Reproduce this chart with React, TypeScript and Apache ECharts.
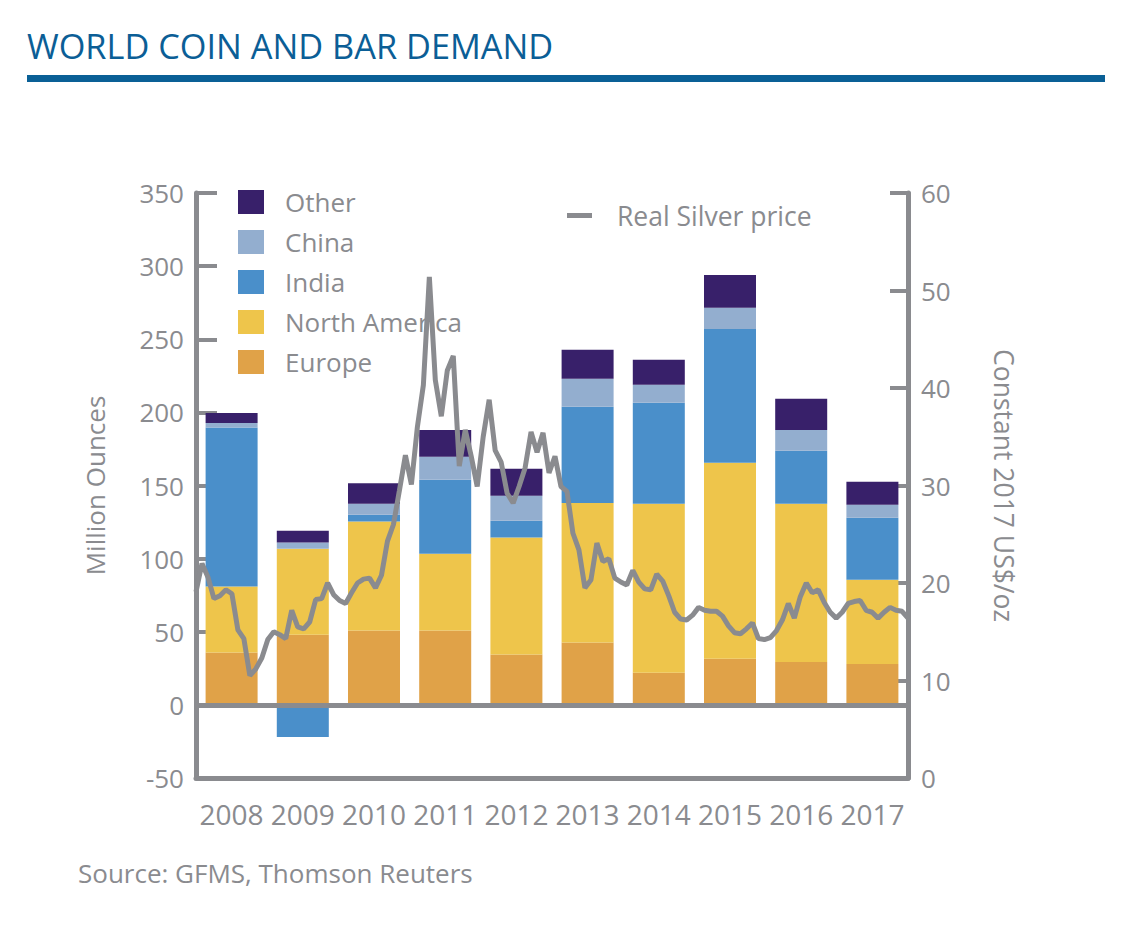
import React, { useEffect, useRef } from "react";
import * as echarts from "echarts";

const years = ["2008", "2009", "2010", "2011", "2012", "2013", "2014", "2015", "2016", "2017"];
const europe = [35.8, 47.9, 50.8, 50.8, 34.4, 42.6, 21.9, 31.5, 29.4, 28];
const northAmerica = [45.1, 58.8, 74.6, 52.5, 80.1, 95.4, 115.6, 134, 108.1, 57.5];
const india = [108.8, -22, 4.6, 50.6, 11.4, 65.8, 69.1, 91.5, 36.2, 42.4];
const china = [3, 4.3, 7.5, 15.7, 17.1, 19.2, 12.3, 14.5, 14.3, 8.9];
const other = [6.8, 8, 14.1, 18.4, 18.4, 19.8, 17.1, 22.5, 21.3, 15.7];

// Real silver price, constant 2017 US$/oz, monthly Jan 2008 - Dec 2017
const silverPrice = [
  19.1, 22.0, 20.6, 18.4, 18.7, 19.3, 18.9, 15.2, 14.3, 10.5, 11.2, 12.3,
  14.2, 15.0, 14.7, 14.3, 17.2, 15.5, 15.3, 16.0, 18.3, 18.4, 20.0, 18.8,
  18.2, 17.9, 19.0, 20.0, 20.4, 20.5, 19.5, 20.8, 24.3, 26.0, 29.5, 33.1,
  30.1, 36.0, 40.3, 51.4, 40.8, 37.1, 41.8, 43.3, 32.0, 35.7, 33.0, 29.9,
  35.0, 38.8, 33.6, 32.4, 29.2, 28.2, 29.9, 31.8, 35.5, 33.4, 35.4, 31.3,
  33.0, 29.9, 29.4, 25.1, 23.4, 19.5, 20.3, 24.1, 22.2, 22.5, 20.5, 20.1,
  19.8, 21.3, 20.1, 19.4, 19.3, 20.9, 20.2, 18.7, 17.0, 16.3, 16.2, 16.7,
  17.5, 17.2, 17.1, 17.1, 16.6, 15.6, 14.9, 14.8, 15.3, 15.9, 14.3, 14.2,
  14.4, 15.1, 16.2, 17.9, 16.4, 18.6, 20.0, 19.0, 19.3, 18.0, 17.0, 16.4,
  17.0, 17.9, 18.1, 18.2, 17.2, 17.0, 16.4, 17.0, 17.5, 17.2, 17.1, 16.4,
];

const monthNames = ["01", "02", "03", "04", "05", "06", "07", "08", "09", "10", "11", "12"];
const months: string[] = [];
years.forEach((y) => monthNames.forEach((m) => months.push(y + "-" + m)));

const leftTicks = { min: -50, max: 350, interval: 50 };
const rightTicks = { min: 0, max: 60, interval: 10 };

const GRAY = "#8a8b8f";
const FONT = "Open Sans";

const colors = {
  other: "#38206a",
  china: "#93aecf",
  india: "#4a8fca",
  northAmerica: "#eec54b",
  europe: "#e0a248",
};

export default function App() {
  const ref = useRef<HTMLDivElement>(null);

  useEffect(() => {
    if (!ref.current) return;
    const chart = echarts.init(ref.current, null, { renderer: "svg" });

    const barBase = {
      type: "bar",
      stack: "total",
      barWidth: 52,
      xAxisIndex: 0,
      yAxisIndex: 0,
    };

    chart.setOption({
      animation: false,
      textStyle: { fontFamily: FONT },
      graphic: [
        {
          type: "text",
          left: 27,
          top: 28,
          style: {
            text: "WORLD COIN AND BAR DEMAND",
            fontSize: 34.3,
            fontFamily: FONT,
            fill: "#0b5e96",
          },
        },
        {
          type: "rect",
          shape: { x: 27, y: 75, width: 1078, height: 7 },
          style: { fill: "#0a6096" },
        },
        {
          type: "text",
          left: 78,
          top: 860,
          style: {
            text: "Source: GFMS, Thomson Reuters",
            fontSize: 26,
            fontFamily: FONT,
            fill: GRAY,
          },
        },
      ],
      grid: { left: 196, right: 226, top: 193, bottom: 152, containLabel: false },
      legend: [
        {
          data: ["Other", "China", "India", "North America", "Europe"],
          orient: "vertical",
          left: 238,
          top: 189,
          padding: 0,
          itemWidth: 26,
          itemHeight: 24,
          itemGap: 14,
          icon: "rect",
          selectedMode: false,
          textStyle: {
            fontSize: 26,
            color: GRAY,
            fontFamily: FONT,
            lineHeight: 24,
            padding: [0, 0, 0, 16],
          },
        },
        {
          data: ["Real Silver price"],
          left: 567,
          top: 202,
          padding: 0,
          itemWidth: 25,
          itemHeight: 5,
          icon: "rect",
          selectedMode: false,
          textStyle: {
            fontSize: 26.5,
            color: GRAY,
            fontFamily: FONT,
            lineHeight: 24,
            padding: [0, 0, 0, 20],
          },
        },
      ],
      xAxis: [
        {
          type: "category",
          data: years,
          position: "bottom",
          axisLine: { onZero: false, lineStyle: { color: GRAY, width: 5 } },
          axisTick: { alignWithLabel: true, interval: 0, length: 15, lineStyle: { color: GRAY, width: 4 } },
          axisLabel: { interval: 0, fontSize: 28, color: GRAY, margin: 22, fontFamily: FONT },
          splitLine: { show: false },
        },
        {
          type: "category",
          data: months,
          boundaryGap: false,
          show: false,
        },
      ],
      yAxis: [
        {
          type: "value",
          position: "left",
          min: leftTicks.min,
          max: leftTicks.max,
          interval: leftTicks.interval,
          name: "Million Ounces",
          nameLocation: "middle",
          nameGap: 88,
          nameTextStyle: { fontSize: 26, color: GRAY, fontFamily: FONT },
          axisLine: { show: true, lineStyle: { color: GRAY, width: 5 } },
          axisTick: { show: true, inside: true, length: 21, lineStyle: { color: GRAY, width: 4 } },
          axisLabel: { fontSize: 26, color: GRAY, margin: 12, fontFamily: FONT },
          splitLine: { show: false },
        },
        {
          type: "value",
          position: "right",
          min: rightTicks.min,
          max: rightTicks.max,
          interval: rightTicks.interval,
          name: "Constant 2017 US$/oz",
          nameLocation: "middle",
          nameRotate: -90,
          nameGap: 82,
          nameTextStyle: { fontSize: 26.5, color: GRAY, fontFamily: FONT },
          axisLine: { show: true, lineStyle: { color: GRAY, width: 5 } },
          axisTick: { show: true, inside: true, length: 18, lineStyle: { color: GRAY, width: 4 } },
          axisLabel: { fontSize: 26, color: GRAY, margin: 13, fontFamily: FONT },
          splitLine: { show: false },
        },
      ],
      series: [
        {
          ...barBase,
          name: "Europe",
          data: europe,
          itemStyle: { color: colors.europe },
          markLine: {
            silent: true,
            symbol: ["none", "none"],
            label: { show: false },
            lineStyle: { color: GRAY, width: 5, type: "solid" },
            data: [{ yAxis: 0 }],
          },
        },
        { ...barBase, name: "North America", data: northAmerica, itemStyle: { color: colors.northAmerica } },
        { ...barBase, name: "India", data: india, itemStyle: { color: colors.india } },
        { ...barBase, name: "China", data: china, itemStyle: { color: colors.china } },
        { ...barBase, name: "Other", data: other, itemStyle: { color: colors.other } },
        {
          type: "line",
          name: "Real Silver price",
          xAxisIndex: 1,
          yAxisIndex: 1,
          data: silverPrice,
          symbol: "none",
          showSymbol: false,
          z: 5,
          itemStyle: { color: GRAY },
          lineStyle: { color: GRAY, width: 5 },
        },
      ],
    });

    return () => chart.dispose();
  }, []);

  return (
    <div
      ref={ref}
      style={{ position: "absolute", left: 0, top: 0, width: 1134, height: 930, background: "#fff" }}
    />
  );
}
